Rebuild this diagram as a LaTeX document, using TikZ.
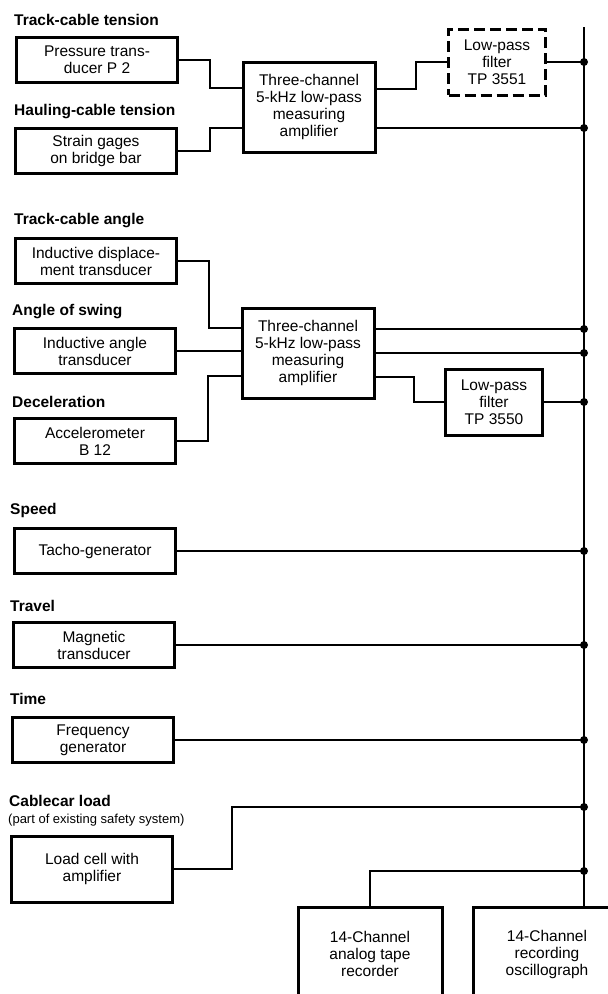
\documentclass[tikz,border=0pt]{standalone}
\usepackage{fontspec}
\setmainfont{Liberation Sans}
\begin{document}
\begin{tikzpicture}[x=1pt,y=-1pt,
  box/.style={draw, line width=3pt, align=center, minimum width=161pt, minimum height=45pt,
    inner sep=2pt, font=\fontsize{15.5}{17}\selectfont},
  ampbox/.style={box, minimum width=132pt, minimum height=90pt},
  filterbox/.style={box, minimum width=97pt, minimum height=66pt},
  title/.style={anchor=west, inner sep=0pt, font=\fontsize{15.5}{17}\selectfont\bfseries},
  wire/.style={line width=1.4pt},
  dot/.style={circle, fill, inner sep=0pt, minimum size=8pt}]
\clip (0,0) rectangle (608,994);
% sensors
\node[title] (t1) at (14,20) {Track-cable tension};
\node[box] (p2) at (97,60) {Pressure trans-\\ducer P 2};
\node[title] (t2) at (14,112) {Hauling-cable tension};
\node[box] (gage) at (96,151) {Strain gages\\on bridge bar};
\node[title] (t3) at (14,221) {Track-cable angle};
\node[box] (disp) at (96,261) {Inductive displace-\\ment transducer};
\node[title] (t4) at (12,312) {Angle of swing};
\node[box] (angle) at (95,351) {Inductive angle\\transducer};
\node[title] (t5) at (12,402) {Deceleration};
\node[box] (accel) at (95,441) {Accelerometer\\B 12};
\node[title] (t6) at (10,510) {Speed};
\node[box] (tacho) at (95,551) {Tacho-generator};
\node[title] (t7) at (10,606) {Travel};
\node[box] (magn) at (94,645) {Magnetic\\transducer};
\node[title] (t8) at (10,699) {Time};
\node[box] (freq) at (93,740) {Frequency\\generator};
\node[title] (t9) at (9,801) {Cablecar load};
\node[anchor=west, inner sep=0pt, font=\fontsize{13}{15}\selectfont] (t9b) at (8,820) {(part of existing safety system)};
\node[box, minimum height=66pt] (load) at (92,869) {Load cell with\\amplifier};
% amplifiers and filters
\node[ampbox] (amp1) at (309,107) {Three-channel\\5-kHz low-pass\\measuring\\amplifier};
\node[ampbox] (amp2) at (308,353) {Three-channel\\5-kHz low-pass\\measuring\\amplifier};
\node[filterbox, dash pattern=on 11pt off 5pt] (tp1) at (497,62) {Low-pass\\filter\\TP 3551};
\node[filterbox] (tp2) at (494,402) {Low-pass\\filter\\TP 3550};
% recorders
\node[box, minimum width=144pt, minimum height=94pt] (tape) at (370,954) {14-Channel\\analog tape\\recorder};
\node[box, minimum width=148pt, minimum height=94pt] (osc) at (547,954) {14-Channel\\recording\\oscillograph};
% bus
\coordinate (bustop) at (584,27);
\draw[wire] (bustop) -- (bustop |- osc.north);
% amplifier 1
\coordinate (j1) at (210,88);
\coordinate (j2) at (210,128);
\coordinate (o1) at (416,89);
\coordinate (o2) at (400,128);
\draw[wire] (p2.east) -| (j1) -- (j1 -| amp1.west);
\draw[wire] (gage.east) -| (j2) -- (j2 -| amp1.west);
\draw[wire] (o1 -| amp1.east) -- (o1) |- (tp1.west);
\draw[wire] (tp1.east) -- (tp1.east -| bustop) node[dot] (d1) {};
\draw[wire] (o2 -| amp1.east) -- (o2 -| bustop) node[dot] (d2) {};
% amplifier 2
\coordinate (j3) at (209,328);
\coordinate (j4) at (208,376);
\coordinate (o3) at (400,329);
\coordinate (o4) at (400,353);
\coordinate (o5) at (414,377);
\draw[wire] (disp.east) -| (j3) -- (j3 -| amp2.west);
\draw[wire] (angle.east) -- (angle.east -| amp2.west);
\draw[wire] (accel.east) -| (j4) -- (j4 -| amp2.west);
\draw[wire] (o3 -| amp2.east) -- (o3 -| bustop) node[dot] (d3) {};
\draw[wire] (o4 -| amp2.east) -- (o4 -| bustop) node[dot] (d4) {};
\draw[wire] (o5 -| amp2.east) -- (o5) |- (tp2.west);
\draw[wire] (tp2.east) -- (tp2.east -| bustop) node[dot] (d5) {};
% direct channels
\draw[wire] (tacho.east) -- (tacho.east -| bustop) node[dot] (d6) {};
\draw[wire] (magn.east) -- (magn.east -| bustop) node[dot] (d7) {};
\draw[wire] (freq.east) -- (freq.east -| bustop) node[dot] (d8) {};
\coordinate (j5) at (232,807);
\draw[wire] (load.east) -| (j5) -- (j5 -| bustop) node[dot] (d9) {};
\coordinate (j6) at (584,871);
\draw[wire] (tape.north) |- (j6) node[dot] (d10) {};
\end{tikzpicture}
\end{document}
